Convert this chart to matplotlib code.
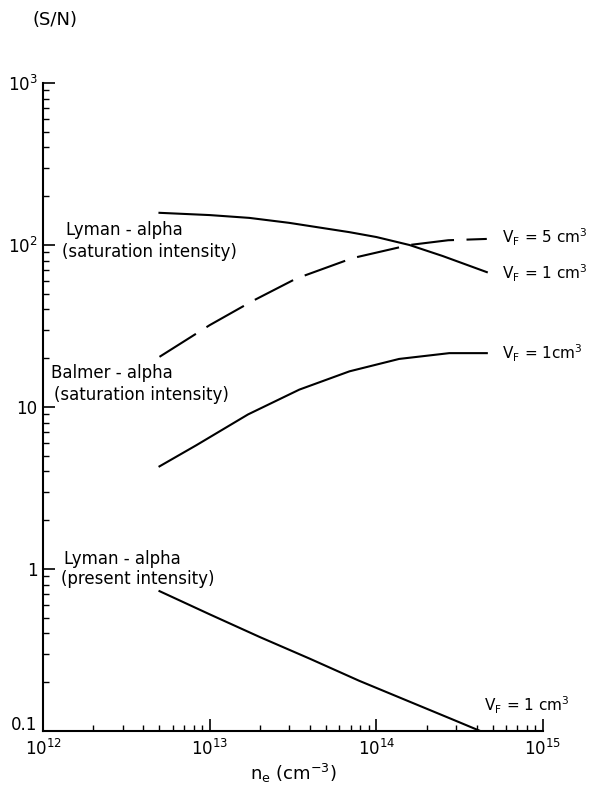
import matplotlib
matplotlib.use('Agg')
from matplotlib import pyplot as plt
from matplotlib.ticker import LogLocator, FixedLocator, FixedFormatter, NullFormatter
import matplotlib.transforms as mtransforms

plt.rcParams['font.family'] = 'DejaVu Sans'
plt.rcParams['mathtext.default'] = 'regular'
plt.rcParams['lines.scale_dashes'] = False

# electron density (cm^-3) vs signal-to-noise
ne_lya_sat = [5e12, 1e13, 1.73e13, 3e13, 6.9e13, 1e14, 1.58e14, 2.5e14, 4.6e14]
sn_lya_sat = [158, 153, 147, 137, 120, 112, 100, 85.5, 68]

ne_lya_sat5 = [5e12, 1e13, 1.8e13, 3.3e13, 7.2e13, 1.58e14, 2.7e14, 4.6e14]
sn_lya_sat5 = [20.4, 32, 45, 62, 83, 100, 107, 109]

ne_balmer = [5e12, 8.3e12, 1.7e13, 3.45e13, 6.9e13, 1.37e14, 2.74e14, 4.6e14]
sn_balmer = [4.3, 5.8, 9.0, 12.8, 16.6, 19.8, 21.5, 21.5]

ne_lya_now = [5e12, 1e13, 2e13, 4e13, 7.9e13, 1.6e14, 2.8e14, 4.2e14]
sn_lya_now = [0.73, 0.525, 0.38, 0.279, 0.204, 0.151, 0.119, 0.1]

xticks = [1e12, 1e13, 1e14, 1e15]
xticklabels = ['$10^{12}$', '$10^{13}$', '$10^{14}$', '$10^{15}$']
yticks = [0.1, 1, 10, 100, 1000]
yticklabels = ['', '1', '10', '$10^{2}$', '$10^{3}$']

fig = plt.figure(figsize=(5.93, 7.86), dpi=100)
ax = fig.add_axes([0.0725, 0.070, 0.8432, 0.8244])

lw = 1.5
ax.plot(ne_lya_sat, sn_lya_sat, color='black', lw=lw)
ax.plot(ne_lya_sat5, sn_lya_sat5, color='black', lw=lw, dashes=(31, 9))
ax.plot(ne_balmer, sn_balmer, color='black', lw=lw)
ax.plot(ne_lya_now, sn_lya_now, color='black', lw=lw)

ax.set_xscale('log')
ax.set_yscale('log')
ax.set_xlim(1e12, 1e15)
ax.set_ylim(0.1, 1e3)

for side in ['top', 'right']:
    ax.spines[side].set_visible(False)
for side in ['left', 'bottom']:
    ax.spines[side].set_linewidth(1.5)

ax.xaxis.set_major_locator(FixedLocator(xticks))
ax.xaxis.set_major_formatter(FixedFormatter(xticklabels))
ax.yaxis.set_major_locator(FixedLocator(yticks))
ax.yaxis.set_major_formatter(FixedFormatter(yticklabels))
ax.xaxis.set_minor_locator(LogLocator(base=10, subs=range(2, 10)))
ax.yaxis.set_minor_locator(LogLocator(base=10, subs=range(2, 10)))
ax.xaxis.set_minor_formatter(NullFormatter())
ax.yaxis.set_minor_formatter(NullFormatter())
ax.tick_params(which='major', direction='in', length=8.5, width=1.2, labelsize=12, pad=4)
ax.tick_params(which='minor', direction='in', length=4.5, width=1.0)
ax.tick_params(axis='x', which='major', pad=6)

# "0.1" sits a little above the corner so it clears the 10^12 label
shift = mtransforms.ScaledTranslation(-4 / 72, 4 / 72, fig.dpi_scale_trans)
ax.text(0, 0.1, '0.1', fontsize=12, ha='right', va='center',
        transform=ax.get_yaxis_transform() + shift)

fs = 12
# curve labels on the left
ax.text(1.37e12, 10 ** 2.093, 'Lyman - alpha', fontsize=fs, va='center')
ax.text(1.30e12, 10 ** 1.957, '(saturation intensity)', fontsize=fs, va='center')
ax.text(1.12e12, 10 ** 1.21, 'Balmer - alpha', fontsize=fs, va='center')
ax.text(1.16e12, 10 ** 1.074, '(saturation intensity)', fontsize=fs, va='center')
ax.text(1.34e12, 10 ** 0.062, 'Lyman - alpha', fontsize=fs, va='center')
ax.text(1.28e12, 10 ** -0.062, '(present intensity)', fontsize=fs, va='center')

# volume labels on the right
fs_r = 11
ax.text(5.64e14, 10 ** 2.049, '$V_F$ = 5 cm$^3$', fontsize=fs_r, va='center')
ax.text(5.64e14, 10 ** 1.827, '$V_F$ = 1 cm$^3$', fontsize=fs_r, va='center')
ax.text(5.64e14, 10 ** 1.333, '$V_F$ = 1cm$^3$', fontsize=fs_r, va='center')
ax.text(4.4e14, 10 ** -0.84, '$V_F$ = 1 cm$^3$', fontsize=fs_r, va='center')

fig.text(32 / 593, 1 - 20 / 786, '(S/N)', fontsize=13, va='center', ha='left')
fig.text(0.4945, 1 - 773 / 786, '$n_e$ (cm$^{-3}$)', fontsize=13, va='center', ha='center')

fig.savefig('out.png', dpi=100)
